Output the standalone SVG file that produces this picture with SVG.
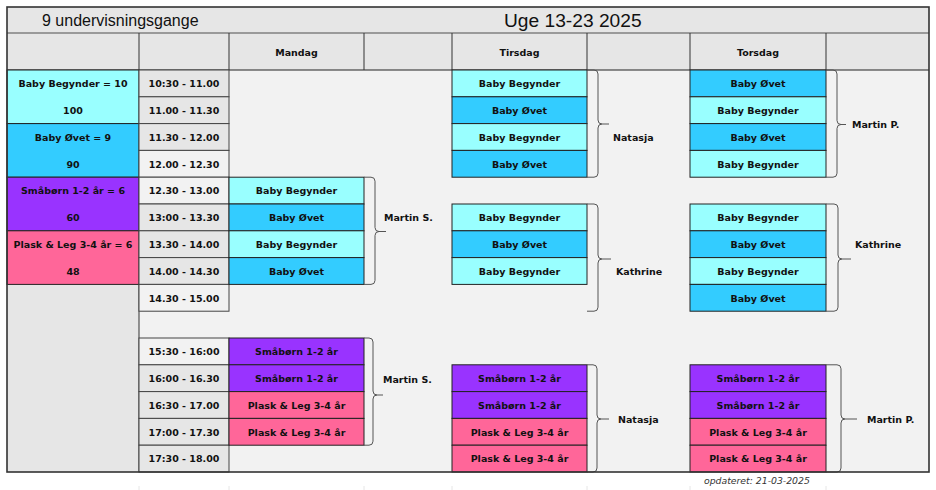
<svg xmlns="http://www.w3.org/2000/svg" width="936" height="490" viewBox="0 0 936 490">
<style>
.t{font-family:"DejaVu Sans","Liberation Sans",sans-serif;font-weight:bold;font-size:9.5px;fill:#111;text-anchor:middle}
.lab{font-family:"DejaVu Sans","Liberation Sans",sans-serif;font-weight:bold;font-size:9.5px;fill:#111}
.title{font-family:"Liberation Sans","DejaVu Sans",sans-serif;fill:#111}
.c{stroke:#222;stroke-width:1}
.bb{fill:#99ffff}.bo{fill:#33ccff}.sm{fill:#9933ff}.pl{fill:#ff6699}
.dk{fill:#e6e6e6}.lt{fill:#f2f2f2}
.tm{stroke:#444;stroke-width:1}
.br{fill:none;stroke:#555;stroke-width:1}
.tick{stroke:#e6e6e6;stroke-width:1}
</style>
<rect x="0" y="0" width="936" height="490" fill="#ffffff"/>
<g id="frame">
<rect x="7" y="7" width="922" height="465" fill="#f2f2f2"/>
<rect x="7" y="7" width="922" height="63" fill="#e6e6e6"/>
<rect x="7" y="285" width="132" height="187" fill="#e6e6e6"/>
<line x1="7" y1="33" x2="929" y2="33" stroke="#808080" stroke-width="1.5"/>
<line x1="7" y1="70" x2="929" y2="70" stroke="#222" stroke-width="1"/>
<g stroke="#333" stroke-width="1">
<line x1="139" y1="33" x2="139" y2="472"/>
<line x1="229" y1="33" x2="229" y2="70"/>
<line x1="364" y1="33" x2="364" y2="70"/>
<line x1="452" y1="33" x2="452" y2="70"/>
<line x1="587" y1="33" x2="587" y2="70"/>
<line x1="690" y1="33" x2="690" y2="70"/>
<line x1="826" y1="33" x2="826" y2="70"/>
</g>
<text class="title" x="42" y="26" font-size="16">9 undervisningsgange</text>
<text class="title" x="504" y="27" font-size="19.2">Uge 13-23 2025</text>
<text class="t" x="296.5" y="56">Mandag</text>
<text class="t" x="519.5" y="56">Tirsdag</text>
<text class="t" x="758" y="56">Torsdag</text>
</g>
<g id="legend">
<g id="leg-bb"><rect class="c bb" x="7" y="70" width="132" height="53.6"/><text class="t" x="73" y="87.3">Baby Begynder = 10</text><text class="t" x="73" y="114">100</text></g>
<g id="leg-bo"><rect class="c bo" x="7" y="123.6" width="132" height="53.6"/><text class="t" x="73" y="140.8">Baby Øvet = 9</text><text class="t" x="73" y="167.6">90</text></g>
<g id="leg-sm"><rect class="c sm" x="7" y="177.2" width="132" height="53.6"/><text class="t" x="73" y="194.4">Småbørn 1-2 år = 6</text><text class="t" x="73" y="221.2">60</text></g>
<g id="leg-pl"><rect class="c pl" x="7" y="230.8" width="132" height="53.6"/><text class="t" x="73" y="248">Plask &amp; Leg 3-4 år = 6</text><text class="t" x="73" y="274.8">48</text></g>
</g>
<g id="times">
<g id="t0"><rect class="tm dk" x="139" y="70" width="90" height="26.8"/><text class="t" x="184" y="87.3">10:30 - 11.00</text></g>
<g id="t1"><rect class="tm dk" x="139" y="96.8" width="90" height="26.8"/><text class="t" x="184" y="114">11.00 - 11.30</text></g>
<g id="t2"><rect class="tm dk" x="139" y="123.6" width="90" height="26.8"/><text class="t" x="184" y="140.8">11.30 - 12.00</text></g>
<g id="t3"><rect class="tm lt" x="139" y="150.4" width="90" height="26.8"/><text class="t" x="184" y="167.6">12.00 - 12.30</text></g>
<g id="t4"><rect class="tm lt" x="139" y="177.2" width="90" height="26.8"/><text class="t" x="184" y="194.4">12.30 - 13.00</text></g>
<g id="t5"><rect class="tm dk" x="139" y="204" width="90" height="26.8"/><text class="t" x="184" y="221.2">13:00 - 13.30</text></g>
<g id="t6"><rect class="tm dk" x="139" y="230.8" width="90" height="26.8"/><text class="t" x="184" y="248">13.30 - 14.00</text></g>
<g id="t7"><rect class="tm dk" x="139" y="257.6" width="90" height="26.8"/><text class="t" x="184" y="274.8">14.00 - 14.30</text></g>
<g id="t8"><rect class="tm lt" x="139" y="284.4" width="90" height="26.8"/><text class="t" x="184" y="301.6">14.30 - 15.00</text></g>
<g id="t10"><rect class="tm lt" x="139" y="338" width="90" height="26.8"/><text class="t" x="184" y="355.2">15:30 - 16:00</text></g>
<g id="t11"><rect class="tm dk" x="139" y="364.8" width="90" height="26.8"/><text class="t" x="184" y="382">16:00 - 16.30</text></g>
<g id="t12"><rect class="tm dk" x="139" y="391.6" width="90" height="26.8"/><text class="t" x="184" y="408.8">16:30 - 17.00</text></g>
<g id="t13"><rect class="tm dk" x="139" y="418.4" width="90" height="26.8"/><text class="t" x="184" y="435.6">17:00 - 17.30</text></g>
<g id="t14"><rect class="tm dk" x="139" y="445.2" width="90" height="26.8"/><text class="t" x="184" y="462.4">17:30 - 18.00</text></g>
</g>
<g id="mandag">
<g id="man-4"><rect class="c bb" x="229" y="177.2" width="135" height="26.8"/><text class="t" x="296.5" y="194.4">Baby Begynder</text></g>
<g id="man-5"><rect class="c bo" x="229" y="204" width="135" height="26.8"/><text class="t" x="296.5" y="221.2">Baby Øvet</text></g>
<g id="man-6"><rect class="c bb" x="229" y="230.8" width="135" height="26.8"/><text class="t" x="296.5" y="248">Baby Begynder</text></g>
<g id="man-7"><rect class="c bo" x="229" y="257.6" width="135" height="26.8"/><text class="t" x="296.5" y="274.8">Baby Øvet</text></g>
<g id="man-10"><rect class="c sm" x="229" y="338" width="135" height="26.8"/><text class="t" x="296.5" y="355.2">Småbørn 1-2 år</text></g>
<g id="man-11"><rect class="c sm" x="229" y="364.8" width="135" height="26.8"/><text class="t" x="296.5" y="382">Småbørn 1-2 år</text></g>
<g id="man-12"><rect class="c pl" x="229" y="391.6" width="135" height="26.8"/><text class="t" x="296.5" y="408.8">Plask &amp; Leg 3-4 år</text></g>
<g id="man-13"><rect class="c pl" x="229" y="418.4" width="135" height="26.8"/><text class="t" x="296.5" y="435.6">Plask &amp; Leg 3-4 år</text></g>
</g>
<g id="tirsdag">
<g id="tir-0"><rect class="c bb" x="452" y="70" width="135" height="26.8"/><text class="t" x="519.5" y="87.3">Baby Begynder</text></g>
<g id="tir-1"><rect class="c bo" x="452" y="96.8" width="135" height="26.8"/><text class="t" x="519.5" y="114">Baby Øvet</text></g>
<g id="tir-2"><rect class="c bb" x="452" y="123.6" width="135" height="26.8"/><text class="t" x="519.5" y="140.8">Baby Begynder</text></g>
<g id="tir-3"><rect class="c bo" x="452" y="150.4" width="135" height="26.8"/><text class="t" x="519.5" y="167.6">Baby Øvet</text></g>
<g id="tir-5"><rect class="c bb" x="452" y="204" width="135" height="26.8"/><text class="t" x="519.5" y="221.2">Baby Begynder</text></g>
<g id="tir-6"><rect class="c bo" x="452" y="230.8" width="135" height="26.8"/><text class="t" x="519.5" y="248">Baby Øvet</text></g>
<g id="tir-7"><rect class="c bb" x="452" y="257.6" width="135" height="26.8"/><text class="t" x="519.5" y="274.8">Baby Begynder</text></g>
<g id="tir-11"><rect class="c sm" x="452" y="364.8" width="135" height="26.8"/><text class="t" x="519.5" y="382">Småbørn 1-2 år</text></g>
<g id="tir-12"><rect class="c sm" x="452" y="391.6" width="135" height="26.8"/><text class="t" x="519.5" y="408.8">Småbørn 1-2 år</text></g>
<g id="tir-13"><rect class="c pl" x="452" y="418.4" width="135" height="26.8"/><text class="t" x="519.5" y="435.6">Plask &amp; Leg 3-4 år</text></g>
<g id="tir-14"><rect class="c pl" x="452" y="445.2" width="135" height="26.8"/><text class="t" x="519.5" y="462.4">Plask &amp; Leg 3-4 år</text></g>
</g>
<g id="torsdag">
<g id="tor-0"><rect class="c bo" x="690" y="70" width="136" height="26.8"/><text class="t" x="758" y="87.3">Baby Øvet</text></g>
<g id="tor-1"><rect class="c bb" x="690" y="96.8" width="136" height="26.8"/><text class="t" x="758" y="114">Baby Begynder</text></g>
<g id="tor-2"><rect class="c bo" x="690" y="123.6" width="136" height="26.8"/><text class="t" x="758" y="140.8">Baby Øvet</text></g>
<g id="tor-3"><rect class="c bb" x="690" y="150.4" width="136" height="26.8"/><text class="t" x="758" y="167.6">Baby Begynder</text></g>
<g id="tor-5"><rect class="c bb" x="690" y="204" width="136" height="26.8"/><text class="t" x="758" y="221.2">Baby Begynder</text></g>
<g id="tor-6"><rect class="c bo" x="690" y="230.8" width="136" height="26.8"/><text class="t" x="758" y="248">Baby Øvet</text></g>
<g id="tor-7"><rect class="c bb" x="690" y="257.6" width="136" height="26.8"/><text class="t" x="758" y="274.8">Baby Begynder</text></g>
<g id="tor-8"><rect class="c bo" x="690" y="284.4" width="136" height="26.8"/><text class="t" x="758" y="301.6">Baby Øvet</text></g>
<g id="tor-11"><rect class="c sm" x="690" y="364.8" width="136" height="26.8"/><text class="t" x="758" y="382">Småbørn 1-2 år</text></g>
<g id="tor-12"><rect class="c sm" x="690" y="391.6" width="136" height="26.8"/><text class="t" x="758" y="408.8">Småbørn 1-2 år</text></g>
<g id="tor-13"><rect class="c pl" x="690" y="418.4" width="136" height="26.8"/><text class="t" x="758" y="435.6">Plask &amp; Leg 3-4 år</text></g>
<g id="tor-14"><rect class="c pl" x="690" y="445.2" width="136" height="26.8"/><text class="t" x="758" y="462.4">Plask &amp; Leg 3-4 år</text></g>
</g>
<g id="connectors">
<path class="br" d="M364,177.2 H371 Q375,177.2 375,181.2 V227.5 Q375,231.5 379,231.5 H386 M379,231.5 Q375,231.5 375,235.5 V280.4 Q375,284.4 371,284.4 H364"/>
<path class="br" d="M587,70 H594 Q598,70 598,74 V120 Q598,124 602,124 H609 M602,124 Q598,124 598,128 V173.2 Q598,177.2 594,177.2 H587"/>
<path class="br" d="M826,70 H833 Q837,70 837,74 V120.5 Q837,124.5 841,124.5 H846 M841,124.5 Q837,124.5 837,128.5 V173.2 Q837,177.2 833,177.2 H826"/>
<path class="br" d="M587,204 H594 Q598,204 598,208 V255 Q598,259 602,259 H611 M602,259 Q598,259 598,263 V307.2 Q598,311.2 594,311.2 H587"/>
<path class="br" d="M826,204 H834 Q838,204 838,208 V255 Q838,259 842,259 H851 M842,259 Q838,259 838,263 V307.2 Q838,311.2 834,311.2 H826"/>
<path class="br" d="M364,338 H369 Q373,338 373,342 V391 Q373,395 377,395 H383 M377,395 Q373,395 373,399 V441.2 Q373,445.2 369,445.2 H364"/>
<path class="br" d="M587,364.8 H593 Q597,364.8 597,368.8 V415 Q597,419 601,419 H609 M601,419 Q597,419 597,423 V468 Q597,472 593,472 H587"/>
<path class="br" d="M826,364.8 H837 Q841,364.8 841,368.8 V415 Q841,419 845,419 H857 M845,419 Q841,419 841,423 V468 Q841,472 837,472 H826"/>
</g>
<g id="teachers">
<text class="lab" x="384" y="221">Martin S.</text>
<text class="lab" x="613" y="141">Natasja</text>
<text class="lab" x="852" y="128">Martin P.</text>
<text class="lab" x="616" y="274.5">Kathrine</text>
<text class="lab" x="855" y="247.5">Kathrine</text>
<text class="lab" x="383" y="383">Martin S.</text>
<text class="lab" x="618" y="423">Natasja</text>
<text class="lab" x="867" y="423">Martin P.</text>
</g>
<rect x="7" y="7" width="922" height="465" fill="none" stroke="#333" stroke-width="1.6"/>
<g id="ticks">
<line class="tick" x1="139" y1="486" x2="139" y2="490"/>
<line class="tick" x1="229" y1="486" x2="229" y2="490"/>
<line class="tick" x1="364" y1="486" x2="364" y2="490"/>
<line class="tick" x1="452" y1="486" x2="452" y2="490"/>
<line class="tick" x1="587" y1="486" x2="587" y2="490"/>
<line class="tick" x1="690" y1="486" x2="690" y2="490"/>
<line class="tick" x1="826" y1="486" x2="826" y2="490"/>
</g>
<text x="704" y="484" font-family="DejaVu Sans, sans-serif" font-style="italic" font-size="9.3" fill="#333">opdateret: 21-03-2025</text>
</svg>
